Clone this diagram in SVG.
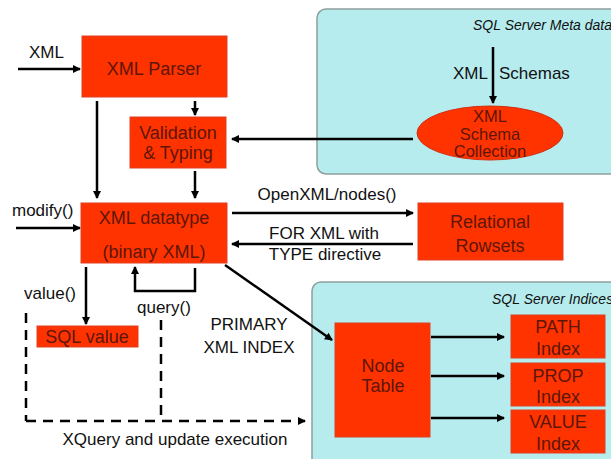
<svg xmlns="http://www.w3.org/2000/svg" width="611" height="459" viewBox="0 0 611 459">
<defs>
<marker id="ah" markerWidth="8" markerHeight="8" refX="7" refY="4" orient="auto" markerUnits="userSpaceOnUse">
<path d="M0,0 L8,4 L0,8 Z" fill="#000"/>
</marker>
</defs>
<style>
text{font-family:"Liberation Sans",Arial,sans-serif;font-size:17px;fill:#111}
.box{fill:#ff3300;stroke:#e04020;stroke-width:1}
.bt{fill:#5e1608;text-anchor:middle;font-size:18px}
.et{fill:#5e1608;text-anchor:middle;font-size:16.5px}
.cont{fill:#b6ecee;stroke:#8f9e9e;stroke-width:1.5}
.ttl{font-style:italic;font-size:14px}
.c{stroke:#000;stroke-width:2.5;fill:none}
.a{marker-end:url(#ah)}
.d{stroke-dasharray:10 7}
.mid{text-anchor:middle}
</style>
<rect width="611" height="459" fill="#fff"/>

<g id="meta">
<rect class="cont" x="317" y="9" width="310" height="165" rx="9"/>
<text class="ttl" x="473" y="30">SQL Server Meta data</text>
</g>
<g id="indices">
<rect class="cont" x="312" y="282" width="320" height="190" rx="9"/>
<text class="ttl" x="492" y="304">SQL Server Indices</text>
</g>

<g id="connectors">
<line class="c a" x1="18" y1="69" x2="80" y2="69"/>
<line class="c a" x1="195" y1="101" x2="195" y2="115"/>
<line class="c a" x1="97" y1="101" x2="97" y2="198"/>
<line class="c a" x1="195" y1="171" x2="195" y2="198"/>
<line class="c a" x1="413" y1="139" x2="232" y2="139"/>
<line class="c a" x1="493" y1="47" x2="493" y2="103"/>
<line class="c a" x1="16" y1="228" x2="80" y2="228"/>
<line class="c a" x1="232" y1="213" x2="413" y2="213"/>
<line class="c a" x1="413" y1="244" x2="232" y2="244"/>
<line class="c a" x1="86" y1="267" x2="86" y2="324"/>
<polyline class="c a" points="195,268 195,291 135,291 135,267"/>
<line class="c a" x1="225" y1="265" x2="332" y2="340"/>
<line class="c a" x1="431" y1="337" x2="504" y2="337"/>
<line class="c a" x1="431" y1="376" x2="504" y2="376"/>
<line class="c a" x1="431" y1="418" x2="504" y2="418"/>
<line class="c d" x1="26" y1="313" x2="26" y2="421"/>
<line class="c d" x1="161" y1="320" x2="161" y2="421"/>
<line class="c d a" x1="26" y1="421" x2="305" y2="421"/>
</g>

<g id="labels">
<text x="29" y="58">XML</text>
<text x="12" y="216">modify()</text>
<text x="24" y="299">value()</text>
<text x="137" y="313">query()</text>
<text class="mid" x="249" y="330">PRIMARY</text>
<text class="mid" x="249" y="353">XML INDEX</text>
<text class="mid" x="175" y="445">XQuery and update execution</text>
<text class="mid" x="327" y="200">OpenXML/nodes()</text>
<text class="mid" x="324" y="239">FOR XML with</text>
<text class="mid" x="325" y="260">TYPE directive</text>
<text x="488" y="79" text-anchor="end">XML</text>
<text x="499" y="79">Schemas</text>
</g>

<g id="parser">
<rect class="box" x="82" y="36" width="145" height="61"/>
<text class="bt" x="154" y="75">XML Parser</text>
</g>
<g id="validation">
<rect class="box" x="130" y="117" width="96" height="51"/>
<text class="bt" x="178" y="139">Validation</text>
<text class="bt" x="178" y="159">&amp; Typing</text>
</g>
<g id="schemacoll">
<ellipse cx="490" cy="133" rx="73" ry="27" fill="#ff3300" stroke="#d03010" stroke-width="1"/>
<text class="et" x="490" y="122">XML</text>
<text class="et" x="490" y="140">Schema</text>
<text class="et" x="490" y="157">Collection</text>
</g>
<g id="datatype">
<rect class="box" x="81" y="203" width="146" height="60"/>
<text class="bt" x="154" y="224">XML datatype</text>
<text class="bt" x="154" y="258">(binary XML)</text>
</g>
<g id="rowsets">
<rect class="box" x="418" y="203" width="145" height="57"/>
<text class="bt" x="490" y="228">Relational</text>
<text class="bt" x="490" y="252">Rowsets</text>
</g>
<g id="sqlvalue">
<rect class="box" x="37" y="326" width="101" height="21"/>
<text class="bt" x="87" y="343">SQL value</text>
</g>
<g id="nodetable">
<rect class="box" x="335" y="323" width="95" height="114"/>
<text class="bt" x="383" y="372">Node</text>
<text class="bt" x="383" y="392">Table</text>
</g>
<g id="pathidx">
<rect class="box" x="511" y="315" width="94" height="43"/>
<text class="bt" x="558" y="333">PATH</text>
<text class="bt" x="558" y="355">Index</text>
</g>
<g id="propidx">
<rect class="box" x="511" y="363" width="94" height="43"/>
<text class="bt" x="558" y="382">PROP</text>
<text class="bt" x="558" y="403">Index</text>
</g>
<g id="valueidx">
<rect class="box" x="511" y="410" width="94" height="43"/>
<text class="bt" x="558" y="428">VALUE</text>
<text class="bt" x="558" y="450">Index</text>
</g>
</svg>
